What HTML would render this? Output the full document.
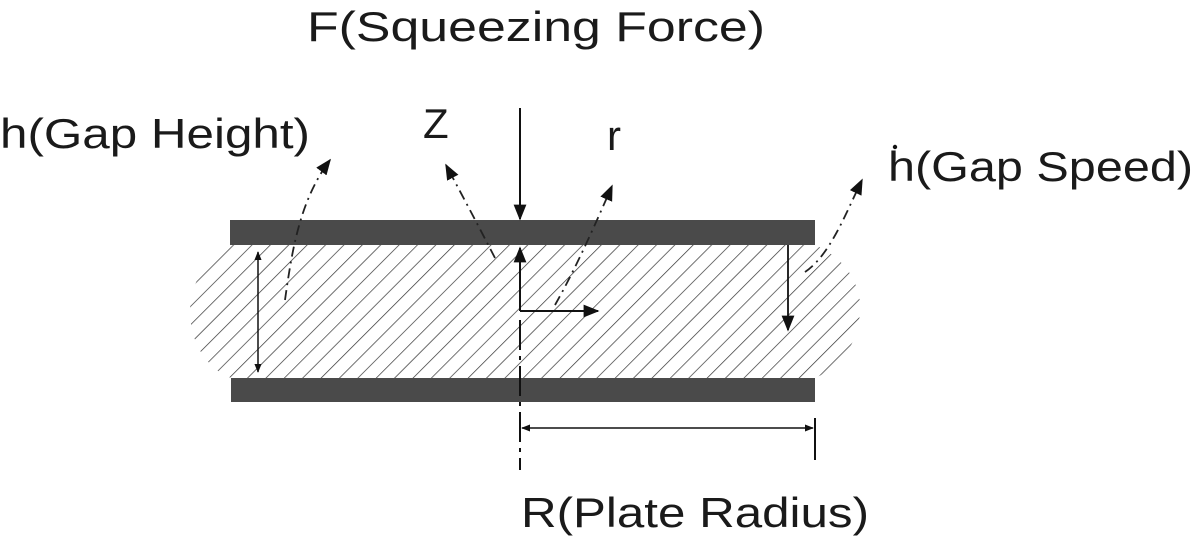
<!DOCTYPE html>
<html><head><meta charset="utf-8"><style>
html,body{margin:0;padding:0;background:#fff}
svg{display:block}
text{font-family:"Liberation Sans",sans-serif;fill:#1a1a1a}
</style></head><body>
<svg width="1200" height="541" viewBox="0 0 1200 541" xmlns="http://www.w3.org/2000/svg">
<defs>
<pattern id="h" patternUnits="userSpaceOnUse" width="13" height="13" patternTransform="rotate(45)">
<rect width="13" height="13" fill="#fff"/>
<line x1="0" y1="0" x2="0" y2="13" stroke="#333" stroke-width="1.4"/>
</pattern>
<marker id="a" viewBox="0 0 10 10" refX="9" refY="5" markerWidth="9" markerHeight="9" orient="auto-start-reverse" markerUnits="userSpaceOnUse">
<path d="M0,1 L10,5 L0,9 z" fill="#111"/></marker>
<marker id="b" viewBox="0 0 10 10" refX="9" refY="5" markerWidth="16" markerHeight="16" orient="auto-start-reverse" markerUnits="userSpaceOnUse">
<path d="M0,1 L10,5 L0,9 z" fill="#111"/></marker>
</defs>
<!-- fluid -->
<path d="M230,245 L815,245 C850,260 862,290 860,312 C858,340 845,365 815,378 L231,378 C205,368 190,340 190,312 C190,285 205,258 230,245 Z" fill="url(#h)"/>
<!-- plates -->
<rect x="230" y="220" width="585" height="25" fill="#4a4a4a"/>
<rect x="231" y="378" width="584" height="24" fill="#4a4a4a"/>
<!-- force -->
<line x1="520" y1="108" x2="520" y2="219" stroke="#111" stroke-width="2" marker-end="url(#b)"/>
<!-- center dashed -->
<line x1="520" y1="320" x2="520" y2="470" stroke="#111" stroke-width="2" stroke-dasharray="30,6,4,6"/>
<!-- axes -->
<line x1="520" y1="311" x2="520" y2="248" stroke="#111" stroke-width="2" marker-end="url(#b)"/>
<line x1="520" y1="311" x2="598" y2="311" stroke="#111" stroke-width="2" marker-end="url(#b)"/>
<!-- gap height -->
<line x1="258" y1="252" x2="258" y2="372" stroke="#111" stroke-width="1.5" marker-start="url(#a)" marker-end="url(#a)"/>
<!-- gap speed -->
<line x1="788" y1="245" x2="788" y2="330" stroke="#111" stroke-width="1.8" marker-end="url(#b)"/>
<!-- dimension R -->
<line x1="522" y1="428" x2="813" y2="428" stroke="#111" stroke-width="1.5" marker-start="url(#a)" marker-end="url(#a)"/>
<line x1="815" y1="418" x2="815" y2="460" stroke="#111" stroke-width="2"/>
<!-- leaders -->
<g stroke="#222" stroke-width="1.8" fill="none" stroke-dasharray="10,5,2,5">
<path d="M285,300 C292,250 300,200 330,160" marker-end="url(#b)"/>
<path d="M495,258 C478,225 462,195 446,165" marker-end="url(#b)"/>
<path d="M555,305 C575,270 595,225 612,186" marker-end="url(#b)"/>
<path d="M805,272 C830,255 845,215 862,180" marker-end="url(#b)"/>
</g>
<!-- text -->
<text x="307" y="41" font-size="42" textLength="458" lengthAdjust="spacingAndGlyphs">F(Squeezing Force)</text>
<text x="0" y="148" font-size="42" textLength="310" lengthAdjust="spacingAndGlyphs">h(Gap Height)</text>
<text x="423" y="138" font-size="42">Z</text>
<text x="607" y="150" font-size="42">r</text>
<text x="888" y="181" font-size="42" textLength="305" lengthAdjust="spacingAndGlyphs">h(Gap Speed)</text>
<circle cx="895" cy="147" r="2.2" fill="#111"/>
<text x="521" y="527" font-size="42" textLength="348" lengthAdjust="spacingAndGlyphs">R(Plate Radius)</text>
</svg>
</body></html>
